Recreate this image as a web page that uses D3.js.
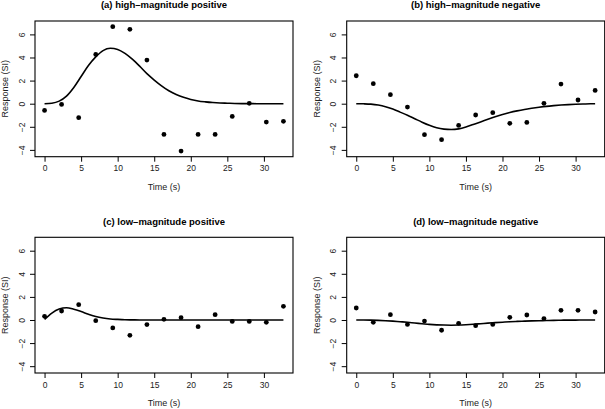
<!DOCTYPE html>
<html>
<head>
<meta charset="utf-8">
<script src="https://cdn.jsdelivr.net/npm/d3@7"></script>
<style>
  html, body { margin: 0; padding: 0; background: #fff; }
  svg { display: block; font-family: "Liberation Sans", Arial, Helvetica, sans-serif; }
</style>
</head>
<body>
<svg id="chart" width="605" height="409"></svg>
<script>
// ---- data ----
const titles = ["(a) high\u2013magnitude positive", "(b) high\u2013magnitude negative",
                "(c) low\u2013magnitude positive", "(d) low\u2013magnitude negative"];
const xTicks = [0, 5, 10, 15, 20, 25, 30];
const yTicks = [-4, -2, 0, 2, 4, 6];
const xLabel = "Time (s)";
const yLabel = "Response (SI)";

const obsTime = [0, 2.33, 4.67, 7, 9.33, 11.67, 14, 16.33, 18.67, 21, 23.33, 25.67, 28, 30.33, 32.67];
const obsA = [-0.58, -0.06, -1.21, 4.27, 6.67, 6.44, 3.78, -2.66, -4.10, -2.66, -2.66, -1.10, 0.03, -1.59, -1.53];
const obsB = [2.42, 1.73, 0.78, -0.29, -2.68, -3.12, -1.88, -0.98, -0.78, -1.70, -1.62, 0.03, 1.70, 0.32, 1.15];
const obsC = [0.32, 0.78, 1.33, -0.06, -0.69, -1.33, -0.40, 0.06, 0.20, -0.58, 0.46, -0.12, -0.12, -0.20, 1.18];
const obsD = [1.04, -0.20, 0.46, -0.38, -0.09, -0.89, -0.29, -0.49, -0.38, 0.23, 0.43, 0.12, 0.84, 0.84, 0.69];

const fitTime = [0,1,2,3,4,5,6,7,8,9,10,11,12,13,14,15,16,17,18,19,20,21,22,23,24,25,26,27,28,29,30,31,32,32.67];
const fitA = [0,0.04,0.22,0.65,1.4,2.35,3.3,4.05,4.6,4.8,4.7,4.35,3.85,3.25,2.6,2.05,1.55,1.12,0.8,0.55,0.37,0.24,0.16,0.1,0.06,0.04,0.02,0.01,0.01,0,0,0,0,0];
const fitB = [0,-0.01,-0.04,-0.12,-0.26,-0.47,-0.73,-1.0,-1.3,-1.6,-1.87,-2.08,-2.2,-2.24,-2.18,-2.02,-1.8,-1.58,-1.35,-1.13,-0.93,-0.76,-0.62,-0.5,-0.4,-0.31,-0.23,-0.17,-0.12,-0.08,-0.05,-0.03,-0.01,0];
const fitC = [0.05,0.6,0.95,1.06,0.93,0.73,0.5,0.3,0.17,0.09,0.05,0.02,0.01,0,0,0,0,0,0,0,0,0,0,0,0,0,0,0,0,0,0,0,0,0];
const fitD = [0,0,-0.01,-0.03,-0.06,-0.1,-0.15,-0.2,-0.26,-0.32,-0.38,-0.42,-0.44,-0.45,-0.44,-0.41,-0.37,-0.32,-0.27,-0.23,-0.19,-0.15,-0.12,-0.1,-0.08,-0.06,-0.05,-0.03,-0.02,-0.01,-0.01,0,0,0];

const panelObs = [obsA, obsB, obsC, obsD];
const panelFit = [fitA, fitB, fitC, fitD];

// ---- layout ----
const offsets = [[0, 0], [311.7, 0], [0, 216.3], [311.7, 216.3]];
const box = { left: 35, right: 293, top: 21, bottom: 156.7 };

const svg = d3.select("#chart");
const x = d3.scaleLinear().domain([-1.307, 33.98]).range([box.left, box.right]);
const y = d3.scaleLinear().domain([-4.59, 7.16]).range([box.bottom, box.top]);

const line = d3.line().x(d => x(d[0])).y(d => y(d[1])).curve(d3.curveMonotoneX);

panelObs.forEach((obs, i) => {
  const g = svg.append("g").attr("transform", `translate(${offsets[i][0]},${offsets[i][1]})`);
  const fit = panelFit[i];

  // fitted curve
  g.append("path")
    .datum(fitTime.map((t, k) => [t, fit[k]]))
    .attr("d", line)
    .attr("fill", "none")
    .attr("stroke", "#000")
    .attr("stroke-width", 1.6);

  // points
  g.selectAll("circle.pt")
    .data(obsTime.map((t, k) => [t, obs[k]]))
    .join("circle")
    .attr("class", "pt")
    .attr("cx", d => x(d[0]))
    .attr("cy", d => y(d[1]))
    .attr("r", 2.4)
    .attr("fill", "#000");

  // box
  g.append("rect")
    .attr("x", box.left).attr("y", box.top)
    .attr("width", box.right - box.left).attr("height", box.bottom - box.top)
    .attr("fill", "none").attr("stroke", "#000").attr("stroke-width", 1.1);

  // x axis
  const xa = g.append("g").attr("transform", `translate(0,${box.bottom})`)
    .call(d3.axisBottom(x).tickValues(xTicks).tickSize(5).tickPadding(3.6));
  xa.select(".domain").remove();
  xa.selectAll("line").attr("stroke", "#000");
  xa.selectAll("text").attr("font-size", 8.5).attr("fill", "#222").attr("font-family", null);

  // y axis
  const ya = g.append("g").attr("transform", `translate(${box.left},0)`)
    .call(d3.axisLeft(y).tickValues(yTicks).tickSize(5));
  ya.select(".domain").remove();
  ya.selectAll("line").attr("stroke", "#000");
  ya.selectAll("text")
    .attr("x", null).attr("dy", null)
    .attr("text-anchor", "middle")
    .attr("transform", "translate(-10.5,0) rotate(-90)")
    .attr("font-size", 8.5).attr("fill", "#222").attr("font-family", null);

  // titles and labels
  g.append("text")
    .attr("x", (box.left + box.right) / 2).attr("y", 8.4)
    .attr("text-anchor", "middle")
    .attr("font-weight", "bold").attr("font-size", 9.5)
    .text(titles[i]);

  g.append("text")
    .attr("x", (box.left + box.right) / 2).attr("y", 190)
    .attr("text-anchor", "middle").attr("font-size", 9).attr("fill", "#222")
    .text(xLabel);

  g.append("text")
    .attr("transform", `translate(8.3,${(box.top + box.bottom) / 2}) rotate(-90)`)
    .attr("text-anchor", "middle").attr("font-size", 9).attr("fill", "#222")
    .text(yLabel);
});
</script>
</body>
</html>
